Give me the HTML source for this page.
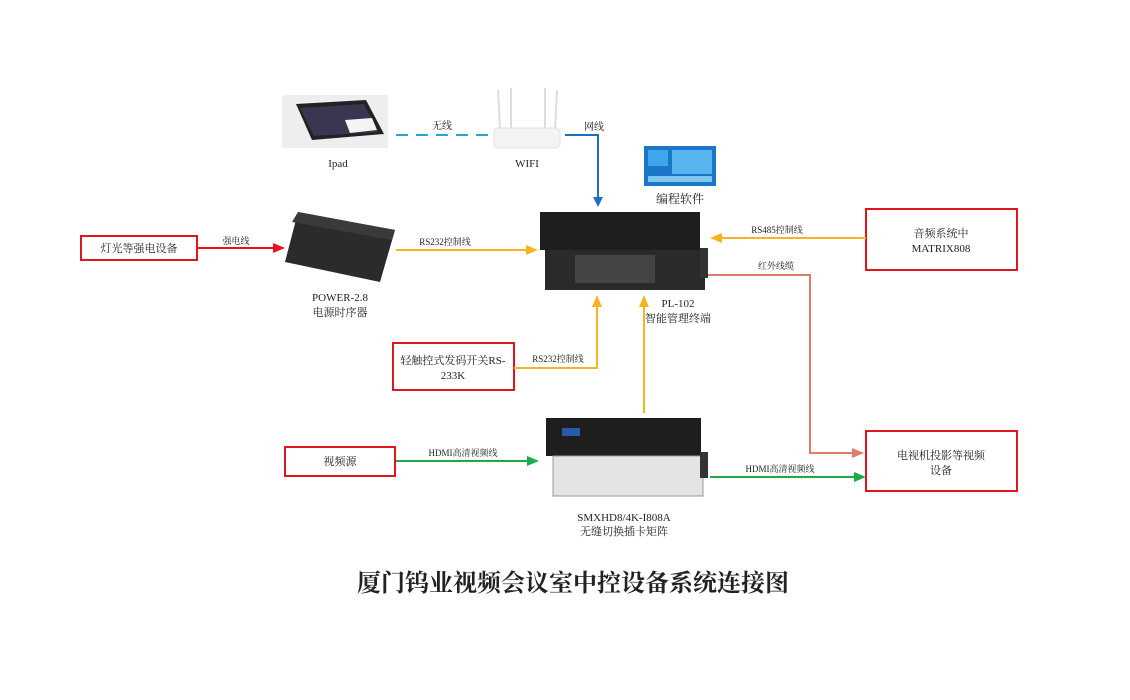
<!DOCTYPE html>
<html><head><meta charset="utf-8"><style>
body{margin:0;background:#fff}
svg text{font-family:"Liberation Serif","Noto Serif CJK SC",serif;fill:#222}
</style></head><body>
<svg width="1130" height="695" xmlns="http://www.w3.org/2000/svg">
<defs>
<marker id="ab" markerWidth="10" markerHeight="10" refX="8" refY="5" orient="auto" markerUnits="userSpaceOnUse"><path d="M0,0L10,5L0,10z" fill="#1f6fc0"/></marker>
<marker id="ay" markerWidth="12" markerHeight="10" refX="10" refY="5" orient="auto" markerUnits="userSpaceOnUse"><path d="M0,0L12,5L0,10z" fill="#f5b51e"/></marker>
<marker id="ar" markerWidth="12" markerHeight="10" refX="10" refY="5" orient="auto" markerUnits="userSpaceOnUse"><path d="M0,0L12,5L0,10z" fill="#e8101a"/></marker>
<marker id="ap" markerWidth="12" markerHeight="10" refX="10" refY="5" orient="auto" markerUnits="userSpaceOnUse"><path d="M0,0L12,5L0,10z" fill="#e07a6a"/></marker>
<marker id="ag" markerWidth="12" markerHeight="10" refX="10" refY="5" orient="auto" markerUnits="userSpaceOnUse"><path d="M0,0L12,5L0,10z" fill="#1daa4a"/></marker>
</defs>
<!-- ipad -->
<rect x="282" y="95" width="106" height="53" fill="#eee"/>
<polygon points="296,104 366,100 384,134 312,140" fill="#222"/>
<polygon points="300,108 364,104 378,132 314,136" fill="#3a3550"/>
<polygon points="345,120 372,118 377,130 350,133" fill="#f4f4f4"/>
<text x="338" y="167" font-size="11" text-anchor="middle">Ipad</text>
<!-- router -->
<line x1="498" y1="90" x2="500" y2="130" stroke="#ddd" stroke-width="2"/>
<line x1="511" y1="88" x2="511" y2="130" stroke="#ddd" stroke-width="2"/>
<line x1="545" y1="88" x2="545" y2="130" stroke="#ddd" stroke-width="2"/>
<line x1="557" y1="90" x2="555" y2="130" stroke="#ddd" stroke-width="2"/>
<rect x="494" y="128" width="66" height="20" rx="4" fill="#f3f3f3" stroke="#e2e2e2"/>
<text x="527" y="167" font-size="11" text-anchor="middle">WIFI</text>
<line x1="396" y1="135" x2="492" y2="135" stroke="#29a3e0" stroke-width="2" stroke-dasharray="12,8"/>
<text x="442" y="129" font-size="10" text-anchor="middle">无线</text>
<polyline points="565,135 598,135 598,205" fill="none" stroke="#1f6fc0" stroke-width="2" marker-end="url(#ab)"/>
<text x="594" y="130" font-size="10" text-anchor="middle">网线</text>
<!-- software -->
<rect x="644" y="146" width="72" height="40" fill="#1b78c9"/>
<rect x="648" y="150" width="20" height="16" fill="#3fa6ea"/>
<rect x="672" y="150" width="40" height="24" fill="#58b4ee"/>
<rect x="648" y="176" width="64" height="6" fill="#7ec7f3"/>
<text x="680" y="203" font-size="12" text-anchor="middle">编程软件</text>
<!-- PL-102 -->
<polygon points="540,212 700,212 700,250 540,250" fill="#1e1e1e"/>
<rect x="545" y="250" width="160" height="40" fill="#2a2a2a"/>
<rect x="575" y="255" width="80" height="28" fill="#444"/>
<rect x="700" y="248" width="8" height="30" fill="#333"/>
<text x="678" y="307" font-size="11" text-anchor="middle">PL-102</text>
<text x="678" y="322" font-size="11" text-anchor="middle">智能管理终端</text>
<!-- power -->
<polygon points="298,212 395,230 380,282 285,262" fill="#2b2b2b"/>
<polygon points="298,212 395,230 392,240 292,222" fill="#3a3a3a"/>
<text x="340" y="301" font-size="11" text-anchor="middle">POWER-2.8</text>
<text x="340" y="316" font-size="11" text-anchor="middle">电源时序器</text>
<!-- red boxes -->
<rect x="81" y="236" width="116" height="24" fill="none" stroke="#e0161e" stroke-width="2"/>
<text x="139" y="252" font-size="11" text-anchor="middle">灯光等强电设备</text>
<line x1="197" y1="248" x2="283" y2="248" stroke="#e8101a" stroke-width="2" marker-end="url(#ar)"/>
<text x="236" y="244" font-size="9" text-anchor="middle">强电线</text>
<line x1="396" y1="250" x2="536" y2="250" stroke="#f5b51e" stroke-width="2" marker-end="url(#ay)"/>
<text x="445" y="245" font-size="9" text-anchor="middle">RS232控制线</text>
<rect x="866" y="209" width="151" height="61" fill="none" stroke="#e0161e" stroke-width="2"/>
<text x="941" y="237" font-size="11" text-anchor="middle">音频系统中</text>
<text x="941" y="252" font-size="11" text-anchor="middle">MATRIX808</text>
<line x1="866" y1="238" x2="712" y2="238" stroke="#f5b51e" stroke-width="2" marker-end="url(#ay)"/>
<text x="777" y="233" font-size="9" text-anchor="middle">RS485控制线</text>
<polyline points="708,275 810,275 810,453 862,453" fill="none" stroke="#e07a6a" stroke-width="2" marker-end="url(#ap)"/>
<text x="776" y="269" font-size="9" text-anchor="middle">红外线缆</text>
<rect x="866" y="431" width="151" height="60" fill="none" stroke="#e0161e" stroke-width="2"/>
<text x="941" y="459" font-size="11" text-anchor="middle">电视机投影等视频</text>
<text x="941" y="474" font-size="11" text-anchor="middle">设备</text>
<rect x="393" y="343" width="121" height="47" fill="none" stroke="#e0161e" stroke-width="2"/>
<text x="453" y="364" font-size="11" text-anchor="middle">轻触控式发码开关RS-</text>
<text x="453" y="379" font-size="11" text-anchor="middle">233K</text>
<polyline points="514,368 597,368 597,297" fill="none" stroke="#f5b51e" stroke-width="2" marker-end="url(#ay)"/>
<text x="558" y="362" font-size="9" text-anchor="middle">RS232控制线</text>
<line x1="644" y1="413" x2="644" y2="297" stroke="#f5b51e" stroke-width="2" marker-end="url(#ay)"/>
<!-- matrix -->
<rect x="546" y="418" width="155" height="38" fill="#1e1e1e"/>
<rect x="553" y="456" width="150" height="40" fill="#e4e4e4" stroke="#999"/>
<rect x="700" y="452" width="8" height="26" fill="#333"/>
<rect x="562" y="428" width="18" height="8" fill="#2a5aa8"/>
<text x="624" y="521" font-size="11" text-anchor="middle">SMXHD8/4K-I808A</text>
<text x="624" y="535" font-size="11" text-anchor="middle">无缝切换插卡矩阵</text>
<rect x="285" y="447" width="110" height="29" fill="none" stroke="#e0161e" stroke-width="2"/>
<text x="340" y="465" font-size="11" text-anchor="middle">视频源</text>
<line x1="396" y1="461" x2="537" y2="461" stroke="#1daa4a" stroke-width="2" marker-end="url(#ag)"/>
<text x="463" y="456" font-size="9" text-anchor="middle">HDMI高清视频线</text>
<line x1="710" y1="477" x2="864" y2="477" stroke="#1daa4a" stroke-width="2" marker-end="url(#ag)"/>
<text x="780" y="472" font-size="9" text-anchor="middle">HDMI高清视频线</text>
<text x="573" y="591" font-size="24" font-weight="bold" text-anchor="middle" style="font-family:'Noto Serif CJK SC',serif">厦门钨业视频会议室中控设备系统连接图</text>
</svg>
</body></html>
